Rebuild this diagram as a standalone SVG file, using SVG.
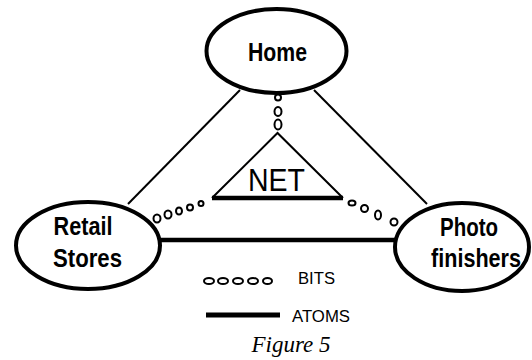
<svg xmlns="http://www.w3.org/2000/svg" width="532" height="360" viewBox="0 0 532 360">
<style>
.node{fill:#fff;stroke:#000;stroke-width:4}
.lbl{font-family:"Liberation Sans",Arial,sans-serif;font-weight:bold;font-size:25px;fill:#000;text-anchor:middle}
.thin{stroke:#000;stroke-width:2;fill:none}
.thick{stroke:#000;stroke-width:4.5;fill:none}
.bit{fill:#fff;stroke:#000;stroke-width:2}
.leg{font-family:"Liberation Sans",Arial,sans-serif;font-size:16px;fill:#000}
.fig{font-family:"Liberation Serif","Times New Roman",serif;font-style:italic;font-size:23px;fill:#000;text-anchor:middle}
</style>
<rect width="532" height="360" fill="#fff"/>
<g id="connectors">
<line class="thin" x1="240" y1="90" x2="128" y2="204"/>
<line class="thin" x1="314" y1="90" x2="427" y2="204"/>
<line class="thick" x1="158" y1="240" x2="397" y2="240"/>
<g id="bits-home-net">
<ellipse class="bit" cx="278" cy="97.5" rx="3" ry="3"/>
<ellipse class="bit" cx="278" cy="111.5" rx="3.5" ry="4.5"/>
<ellipse class="bit" cx="278" cy="124.5" rx="3.5" ry="5"/>
</g>
<g id="bits-retail-net">
<ellipse class="bit" cx="201" cy="203.5" rx="2.5" ry="2.5"/>
<ellipse class="bit" cx="190" cy="207.5" rx="3" ry="3"/>
<ellipse class="bit" cx="179" cy="211" rx="3" ry="3.5"/>
<ellipse class="bit" cx="168" cy="214.5" rx="3.5" ry="4"/>
<ellipse class="bit" cx="157" cy="218.5" rx="3.5" ry="4"/>
</g>
<g id="bits-photo-net">
<ellipse class="bit" cx="352" cy="203" rx="3.5" ry="2.5"/>
<ellipse class="bit" cx="364.5" cy="208.5" rx="3.5" ry="3.5"/>
<ellipse class="bit" cx="378" cy="215" rx="3" ry="4.5"/>
<ellipse class="bit" cx="394" cy="222" rx="3.5" ry="3.5"/>
</g>
</g>
<g id="net">
<polyline class="thin" points="212,198 277.5,133 343,198"/>
<line class="thick" x1="212" y1="198" x2="343" y2="198"/>
<text x="276.5" y="191" font-family="Liberation Sans,Arial,sans-serif" font-size="32" text-anchor="middle" textLength="57" lengthAdjust="spacingAndGlyphs">NET</text>
</g>
<g id="home">
<ellipse class="node" cx="276.5" cy="51" rx="70" ry="42"/>
<text class="lbl" x="277.5" y="61" textLength="59" lengthAdjust="spacingAndGlyphs">Home</text>
</g>
<g id="retail">
<ellipse class="node" cx="88" cy="245.5" rx="72" ry="43.5"/>
<text class="lbl" x="83" y="235" textLength="59" lengthAdjust="spacingAndGlyphs">Retail</text>
<text class="lbl" x="87.5" y="267" textLength="69" lengthAdjust="spacingAndGlyphs">Stores</text>
</g>
<g id="photo">
<ellipse class="node" cx="462" cy="247" rx="67" ry="44"/>
<text class="lbl" x="469" y="236" textLength="58" lengthAdjust="spacingAndGlyphs">Photo</text>
<text class="lbl" x="476" y="267" textLength="90" lengthAdjust="spacingAndGlyphs">finishers</text>
</g>
<g id="legend">
<ellipse class="bit" cx="209" cy="281" rx="5" ry="3"/>
<ellipse class="bit" cx="223" cy="281" rx="5" ry="3"/>
<ellipse class="bit" cx="238" cy="281" rx="5" ry="3"/>
<ellipse class="bit" cx="253" cy="281" rx="5" ry="3"/>
<ellipse class="bit" cx="267.5" cy="281" rx="4.5" ry="3"/>
<text class="leg" x="298" y="284" textLength="37" lengthAdjust="spacingAndGlyphs">BITS</text>
<line x1="206" y1="315" x2="280" y2="315" stroke="#000" stroke-width="5"/>
<text class="leg" x="292" y="322" font-size="17" textLength="58" lengthAdjust="spacingAndGlyphs">ATOMS</text>
</g>
<text class="fig" x="291" y="352">Figure 5</text>
</svg>
